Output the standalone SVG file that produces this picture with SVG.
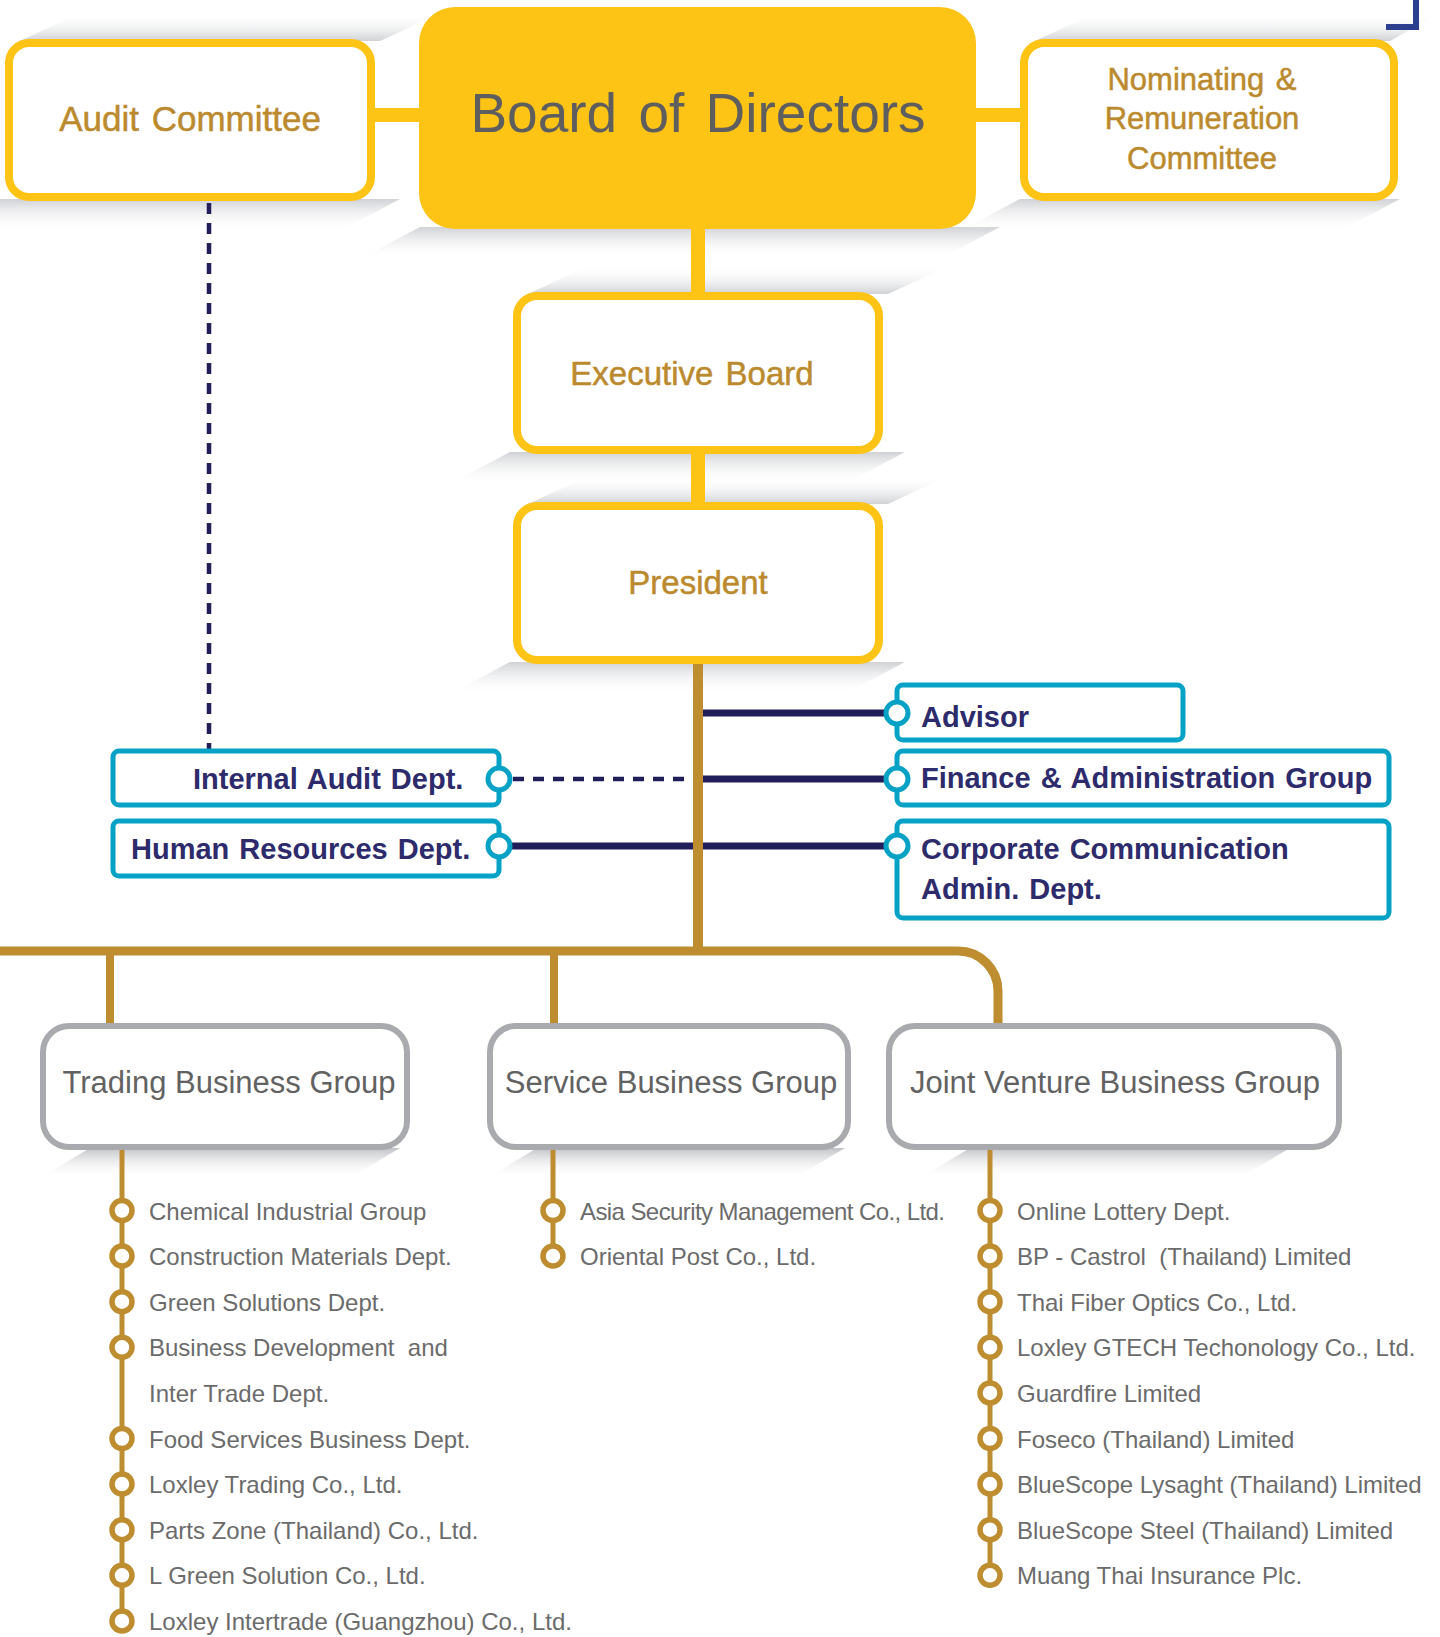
<svg xmlns="http://www.w3.org/2000/svg" width="1440" height="1637" viewBox="0 0 1440 1637">
<defs>
<linearGradient id="shTop" x1="0" y1="1" x2="0" y2="0">
<stop offset="0" stop-color="#c4c6ca" stop-opacity="0.8"/>
<stop offset="1" stop-color="#ffffff" stop-opacity="0"/>
</linearGradient>
<linearGradient id="shBot" x1="0" y1="0" x2="0" y2="1">
<stop offset="0" stop-color="#c4c6ca" stop-opacity="0.8"/>
<stop offset="1" stop-color="#ffffff" stop-opacity="0"/>
</linearGradient>
<linearGradient id="shBotG" x1="0" y1="0" x2="0" y2="1">
<stop offset="0" stop-color="#b9bbbf" stop-opacity="0.9"/>
<stop offset="1" stop-color="#ffffff" stop-opacity="0"/>
</linearGradient>
</defs>
<style>
.ybox{fill:#ffffff;stroke:#FDC315;stroke-width:8}
.ytxt{font-family:"Liberation Sans",Arial,sans-serif;fill:#BB8A2E;stroke:#BB8A2E;stroke-width:0.5;text-anchor:middle;word-spacing:3px}
.bbox{fill:#ffffff;stroke:#05A2C5;stroke-width:5}
.btxt{font-family:"Liberation Sans",Arial,sans-serif;font-weight:bold;font-size:29px;fill:#2D2B6B;word-spacing:2px}
.bdot{fill:#ffffff;stroke:#05A2C5;stroke-width:5}
.gbox{fill:#ffffff;stroke:#A9AAAE;stroke-width:6}
.gtxt{font-family:"Liberation Sans",Arial,sans-serif;font-size:31px;fill:#626262;text-anchor:middle}
.ltxt{font-family:"Liberation Sans",Arial,sans-serif;font-size:24px;fill:#6B6B6B;white-space:pre}
.bul{fill:#ffffff;stroke:#BD8D2F;stroke-width:5.5}
.yl{stroke:#FDC315;stroke-width:14;fill:none}
.gl{stroke:#BD8D2F;fill:none}
.nl{stroke:#221E5A;stroke-width:7;fill:none}
.nd{stroke:#221E5A;stroke-width:4.5;stroke-dasharray:11 9;fill:none}
</style>

<g id="shadows">
<polygon points="20,41 80,13 440,13 380,41" fill="url(#shTop)"/>
<polygon points="-60,231 0,199 400,199 340,231" fill="url(#shBot)"/>
<polygon points="360,259 420,227 1000,227 940,259" fill="url(#shBot)"/>
<polygon points="1035,41 1095,13 1440,13 1390,41" fill="url(#shTop)"/>
<polygon points="960,231 1020,199 1400,199 1340,231" fill="url(#shBot)"/>
<polygon points="528,294 588,266 948,266 888,294" fill="url(#shTop)"/>
<polygon points="450,484 510,452 905,452 845,484" fill="url(#shBot)"/>
<polygon points="528,504 588,476 948,476 888,504" fill="url(#shTop)"/>
<polygon points="450,694 510,662 905,662 845,694" fill="url(#shBot)"/>
<polygon points="40,1178 90,1148 400,1148 350,1178" fill="url(#shBotG)"/>
<polygon points="487,1178 537,1148 845,1148 795,1178" fill="url(#shBotG)"/>
<polygon points="920,1178 970,1148 1290,1148 1240,1178" fill="url(#shBotG)"/>
</g>

<g id="connectors">
<line class="yl" x1="370" y1="115" x2="425" y2="115"/>
<line class="yl" x1="970" y1="115" x2="1025" y2="115"/>
<line class="yl" x1="698" y1="225" x2="698" y2="296"/>
<line class="yl" x1="698" y1="450" x2="698" y2="506"/>
<line class="nd" x1="209" y1="203" x2="209" y2="750"/>
<line class="nd" x1="513" y1="779" x2="692" y2="779"/>
<line class="nl" x1="512" y1="846" x2="698" y2="846"/>
<line class="nl" x1="698" y1="713" x2="886" y2="713"/>
<line class="nl" x1="698" y1="779" x2="886" y2="779"/>
<line class="nl" x1="698" y1="846" x2="886" y2="846"/>
<line class="gl" stroke-width="10" x1="698" y1="662" x2="698" y2="955"/>
<path class="gl" stroke-width="9" d="M0 951 H958 A40 40 0 0 1 998 991 V1028"/>
<line class="gl" stroke-width="8" x1="110" y1="951" x2="110" y2="1028"/>
<line class="gl" stroke-width="8" x1="554" y1="951" x2="554" y2="1028"/>
<line class="gl" stroke-width="5" x1="122" y1="1146" x2="122" y2="1621"/>
<line class="gl" stroke-width="5" x1="553" y1="1146" x2="553" y2="1256"/>
<line class="gl" stroke-width="5" x1="990" y1="1146" x2="990" y2="1576"/>
</g>

<g id="corner-mark">
<path d="M1386 27 H1416 V0" fill="none" stroke="#2C3E8E" stroke-width="6"/>
</g>

<g id="board">
<rect x="419" y="7" width="557" height="222" rx="36" fill="#FDC315"/>
<text x="698" y="132" font-family="Liberation Sans, Arial, sans-serif" font-size="55" fill="#5E5E5E" text-anchor="middle" word-spacing="6">Board of Directors</text>
</g>
<g id="audit-committee">
<rect class="ybox" x="9" y="43" width="362" height="154" rx="20"/>
<text class="ytxt" x="190" y="131" font-size="35">Audit Committee</text>
</g>
<g id="nominating">
<rect class="ybox" x="1024" y="43" width="370" height="154" rx="20"/>
<text class="ytxt" x="1202" y="90" font-size="31">Nominating &amp;</text>
<text class="ytxt" x="1202" y="129" font-size="31">Remuneration</text>
<text class="ytxt" x="1202" y="169" font-size="31">Committee</text>
</g>
<g id="executive-board">
<rect class="ybox" x="517" y="296" width="362" height="154" rx="20"/>
<text class="ytxt" x="692" y="385" font-size="33">Executive Board</text>
</g>
<g id="president">
<rect class="ybox" x="517" y="506" width="362" height="154" rx="20"/>
<text class="ytxt" x="698" y="594" font-size="33">President</text>
</g>

<g id="internal-audit">
<rect class="bbox" x="113" y="751" width="386" height="54" rx="6"/>
<text class="btxt" x="193" y="789">Internal Audit Dept.</text>
<circle class="bdot" cx="499" cy="779" r="11"/>
</g>
<g id="human-resources">
<rect class="bbox" x="113" y="821" width="386" height="55" rx="6"/>
<text class="btxt" x="131" y="859">Human Resources Dept.</text>
<circle class="bdot" cx="499" cy="846" r="11"/>
</g>
<g id="advisor">
<rect class="bbox" x="897" y="685" width="286" height="55" rx="6"/>
<text class="btxt" x="921" y="727">Advisor</text>
<circle class="bdot" cx="897" cy="713" r="11"/>
</g>
<g id="finance">
<rect class="bbox" x="897" y="751" width="492" height="54" rx="6"/>
<text class="btxt" x="921" y="788">Finance &amp; Administration Group</text>
<circle class="bdot" cx="897" cy="779" r="11"/>
</g>
<g id="corporate-communication">
<rect class="bbox" x="897" y="821" width="492" height="97" rx="6"/>
<text class="btxt" x="921" y="859">Corporate Communication</text>
<text class="btxt" x="921" y="899">Admin. Dept.</text>
<circle class="bdot" cx="897" cy="846" r="11"/>
</g>

<g id="trading-group">
<rect class="gbox" x="43" y="1026" width="364" height="121" rx="26"/>
<text class="gtxt" x="229" y="1093">Trading Business Group</text>
</g>
<g id="service-group">
<rect class="gbox" x="490" y="1026" width="358" height="121" rx="26"/>
<text class="gtxt" x="671" y="1093">Service Business Group</text>
</g>
<g id="jv-group">
<rect class="gbox" x="889" y="1026" width="450" height="121" rx="26"/>
<text class="gtxt" x="1115" y="1093">Joint Venture Business Group</text>
</g>

<g id="trading-list">
<circle class="bul" cx="122" cy="1210.5" r="10"/><text class="ltxt" x="149" y="1219.5">Chemical Industrial Group</text>
<circle class="bul" cx="122" cy="1256.1" r="10"/><text class="ltxt" x="149" y="1265.1">Construction Materials Dept.</text>
<circle class="bul" cx="122" cy="1301.7" r="10"/><text class="ltxt" x="149" y="1310.7">Green Solutions Dept.</text>
<circle class="bul" cx="122" cy="1347.3" r="10"/><text class="ltxt" x="149" y="1356.3">Business Development  and</text>
<text class="ltxt" x="149" y="1401.9">Inter Trade Dept.</text>
<circle class="bul" cx="122" cy="1438.5" r="10"/><text class="ltxt" x="149" y="1447.5">Food Services Business Dept.</text>
<circle class="bul" cx="122" cy="1484.1" r="10"/><text class="ltxt" x="149" y="1493.1">Loxley Trading Co., Ltd.</text>
<circle class="bul" cx="122" cy="1529.7" r="10"/><text class="ltxt" x="149" y="1538.7">Parts Zone (Thailand) Co., Ltd.</text>
<circle class="bul" cx="122" cy="1575.3" r="10"/><text class="ltxt" x="149" y="1584.3">L Green Solution Co., Ltd.</text>
<circle class="bul" cx="122" cy="1620.9" r="10"/><text class="ltxt" x="149" y="1629.9">Loxley Intertrade (Guangzhou) Co., Ltd.</text>
</g>
<g id="service-list">
<circle class="bul" cx="553" cy="1210.5" r="10"/><text class="ltxt" x="580" y="1219.5" textLength="365">Asia Security Management Co., Ltd.</text>
<circle class="bul" cx="553" cy="1256.1" r="10"/><text class="ltxt" x="580" y="1265.1">Oriental Post Co., Ltd.</text>
</g>
<g id="jv-list">
<circle class="bul" cx="990" cy="1210.5" r="10"/><text class="ltxt" x="1017" y="1219.5">Online Lottery Dept.</text>
<circle class="bul" cx="990" cy="1256.1" r="10"/><text class="ltxt" x="1017" y="1265.1">BP - Castrol  (Thailand) Limited</text>
<circle class="bul" cx="990" cy="1301.7" r="10"/><text class="ltxt" x="1017" y="1310.7">Thai Fiber Optics Co., Ltd.</text>
<circle class="bul" cx="990" cy="1347.3" r="10"/><text class="ltxt" x="1017" y="1356.3">Loxley GTECH Techonology Co., Ltd.</text>
<circle class="bul" cx="990" cy="1392.9" r="10"/><text class="ltxt" x="1017" y="1401.9">Guardfire Limited</text>
<circle class="bul" cx="990" cy="1438.5" r="10"/><text class="ltxt" x="1017" y="1447.5">Foseco (Thailand) Limited</text>
<circle class="bul" cx="990" cy="1484.1" r="10"/><text class="ltxt" x="1017" y="1493.1">BlueScope Lysaght (Thailand) Limited</text>
<circle class="bul" cx="990" cy="1529.7" r="10"/><text class="ltxt" x="1017" y="1538.7">BlueScope Steel (Thailand) Limited</text>
<circle class="bul" cx="990" cy="1575.3" r="10"/><text class="ltxt" x="1017" y="1584.3">Muang Thai Insurance Plc.</text>
</g>
</svg>
